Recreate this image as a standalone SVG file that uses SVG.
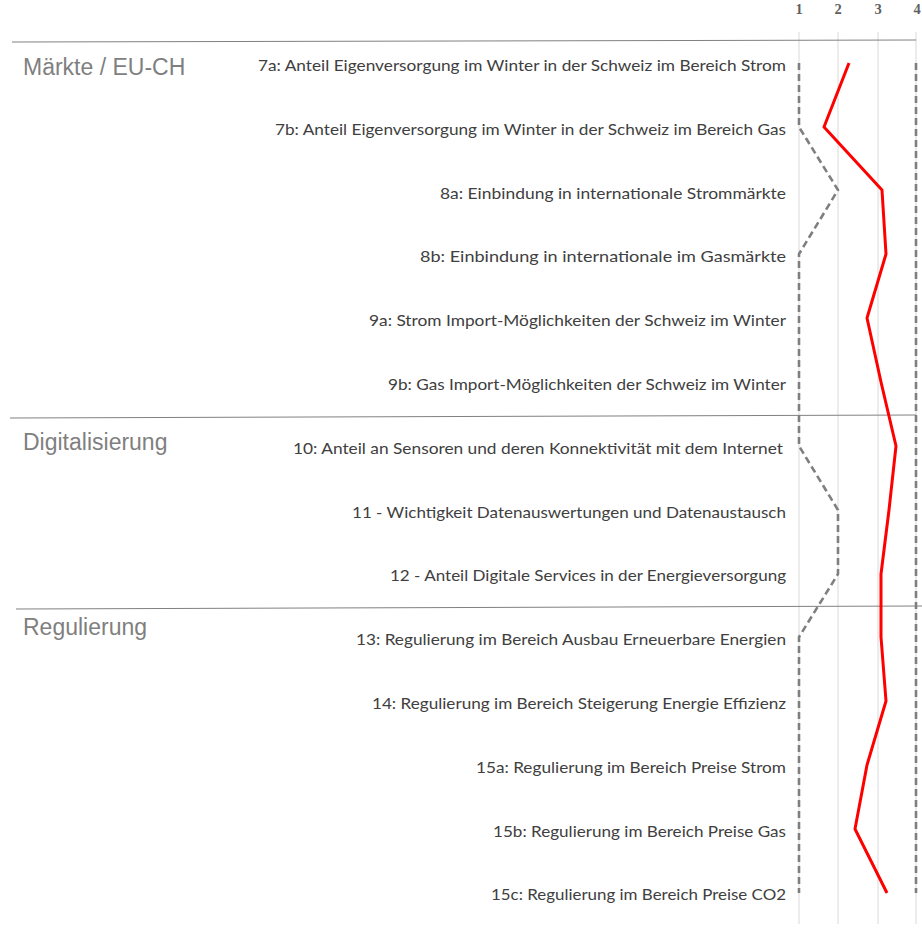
<svg xmlns="http://www.w3.org/2000/svg" width="922" height="937" viewBox="0 0 922 937">
<style>
.grid{stroke:#d9d9d9;stroke-width:1;fill:none}
.sep{stroke:#808080;stroke-width:1;fill:none}
.axis{font-family:"Liberation Serif",serif;font-size:14.5px;font-weight:bold;fill:#606060;text-anchor:middle}
.sec{font-family:"Liberation Sans",Arial,sans-serif;font-size:23px;fill:#7f7f7f}
.lbl{font-family:Lato,"Open Sans",sans-serif;font-size:16px;fill:#404040;text-anchor:end}
.dash{stroke:#7f7f7f;stroke-width:2.6;stroke-dasharray:7 4;fill:none}
.red{stroke:#ff0000;stroke-width:3;fill:none;stroke-linejoin:round;stroke-linecap:butt}
</style>
<rect width="922" height="937" fill="#ffffff"/>
<g id="axis">
<line class="grid" x1="799" y1="32" x2="799" y2="924"/>
<line class="grid" x1="838" y1="32" x2="838" y2="924"/>
<line class="grid" x1="878" y1="32" x2="878" y2="924"/>
<line class="grid" x1="916" y1="32" x2="916" y2="924"/>
<text class="axis" x="799" y="14">1</text>
<text class="axis" x="838" y="14">2</text>
<text class="axis" x="878" y="14">3</text>
<text class="axis" x="917" y="14">4</text>
</g>
<g id="sections">
<line class="sep" x1="12" y1="42" x2="916" y2="40"/>
<line class="sep" x1="10" y1="418" x2="916" y2="415"/>
<line class="sep" x1="16" y1="609" x2="922" y2="606"/>
<text class="sec" x="23" y="75">Märkte / EU-CH</text>
<text class="sec" x="23" y="450">Digitalisierung</text>
<text class="sec" x="23" y="635">Regulierung</text>
</g>
<g id="labels">
<text class="lbl" x="786" y="71" textLength="528" lengthAdjust="spacingAndGlyphs">7a: Anteil Eigenversorgung im Winter in der Schweiz im Bereich Strom</text>
<text class="lbl" x="786" y="135" textLength="511" lengthAdjust="spacingAndGlyphs">7b: Anteil Eigenversorgung im Winter in der Schweiz im Bereich Gas</text>
<text class="lbl" x="786" y="198.6" textLength="346" lengthAdjust="spacingAndGlyphs">8a: Einbindung in internationale Strommärkte</text>
<text class="lbl" x="786" y="262.4" textLength="366" lengthAdjust="spacingAndGlyphs">8b: Einbindung in internationale im Gasmärkte</text>
<text class="lbl" x="786" y="326.2" textLength="417" lengthAdjust="spacingAndGlyphs">9a: Strom Import-Möglichkeiten der Schweiz im Winter</text>
<text class="lbl" x="786" y="390" textLength="398" lengthAdjust="spacingAndGlyphs">9b: Gas Import-Möglichkeiten der Schweiz im Winter</text>
<text class="lbl" x="783" y="453.8" textLength="490" lengthAdjust="spacingAndGlyphs">10: Anteil an Sensoren und deren Konnektivität mit dem Internet</text>
<text class="lbl" x="786" y="517.6" textLength="434" lengthAdjust="spacingAndGlyphs">11 - Wichtigkeit Datenauswertungen und Datenaustausch</text>
<text class="lbl" x="786" y="581.4" textLength="396" lengthAdjust="spacingAndGlyphs">12 - Anteil Digitale Services in der Energieversorgung</text>
<text class="lbl" x="786" y="645.2" textLength="430" lengthAdjust="spacingAndGlyphs">13: Regulierung im Bereich Ausbau Erneuerbare Energien</text>
<text class="lbl" x="786" y="709" textLength="414" lengthAdjust="spacingAndGlyphs">14: Regulierung im Bereich Steigerung Energie Effizienz</text>
<text class="lbl" x="786" y="772.8" textLength="310" lengthAdjust="spacingAndGlyphs">15a: Regulierung im Bereich Preise Strom</text>
<text class="lbl" x="786" y="836.6" textLength="293" lengthAdjust="spacingAndGlyphs">15b: Regulierung im Bereich Preise Gas</text>
<text class="lbl" x="786" y="900.4" textLength="295" lengthAdjust="spacingAndGlyphs">15c: Regulierung im Bereich Preise CO2</text>
</g>
<g id="connectors">
<polyline id="series-min" class="dash" points="799,63 799,127 838,190 799,254 799,446 838,510 838,574 799,637 799,893"/>
<polyline id="series-max" class="dash" points="916,63 916,893"/>
<polyline id="series-mean" class="red" points="849,63 824,127 882,190 886,254 867,318 881,382 896,446 889,510 881,574 881,637 886,701 867,765 855,829 887,893"/>
</g>
</svg>
